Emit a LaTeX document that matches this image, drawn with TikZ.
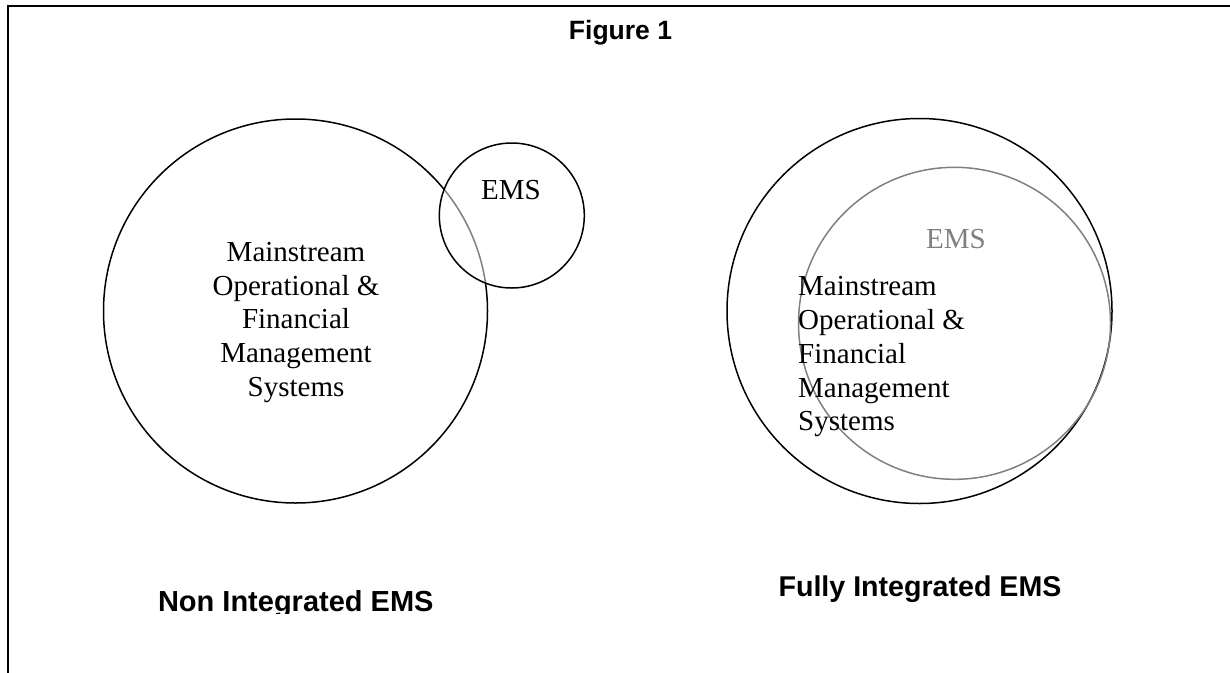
\documentclass[tikz,border=0pt]{standalone}
\usepackage{fontspec}
\setmainfont{Liberation Serif}
\newfontfamily\headfont{Liberation Sans}
\definecolor{emsgray}{HTML}{808080}
\begin{document}
\begin{tikzpicture}[x=1pt,y=-1pt,
  ring/.style={circle,draw=black,line width=1.5pt,minimum size=#1,inner sep=0pt},
  bodytext/.style={inner sep=0pt,font=\fontsize{29}{33.75}\selectfont},
  headtext/.style={inner sep=0pt,font=\headfont\bfseries\fontsize{#1}{#1}\selectfont},
  frame/.style={draw=black,line width=2.2pt}]
\useasboundingbox (0,0) rectangle (1230,672);
\clip (0,0) rectangle (1230,672);

% page frame (runs off the right and bottom edges)
\draw[frame] (8,6) rectangle (1260,700);

% title
\node[headtext=26.5,anchor=base] (title) at (620.5,39.3) {Figure 1};

% left: separate EMS beside the mainstream systems
\node[ring=384pt] (mainA) at (295.5,311) {};
\node[ring=145pt,fill=white,fill opacity=0.5] (emsA) at (511.8,215.5) {};
\node[bodytext,anchor=base] (emsAtext) at (511,199.3) {EMS};
\node[bodytext,align=center,anchor=north] (mainAtext) at (296,242)
  {Mainstream\\Operational \&\\Financial\\Management\\Systems};
\begin{scope}
  \clip (0,0) rectangle (1230,613);
  \node[headtext=29,anchor=base] (capA) at (295.8,611.7) {Non Integrated EMS};
\end{scope}

% right: EMS inside the mainstream systems
\node[ring=385pt] (mainB) at (919.5,311) {};
\node[ring=312pt,draw=emsgray] (emsB) at (954.5,323.3) {};
\node[bodytext,anchor=base,text=emsgray] (emsBtext) at (956,248.3) {EMS};
\node[bodytext,align=left,anchor=north west] (mainBtext) at (798,276.5)
  {Mainstream\\Operational \&\\Financial\\Management\\Systems};
\node[headtext=28.6,anchor=base] (capB) at (920,596.7) {Fully Integrated EMS};
\end{tikzpicture}
\end{document}
